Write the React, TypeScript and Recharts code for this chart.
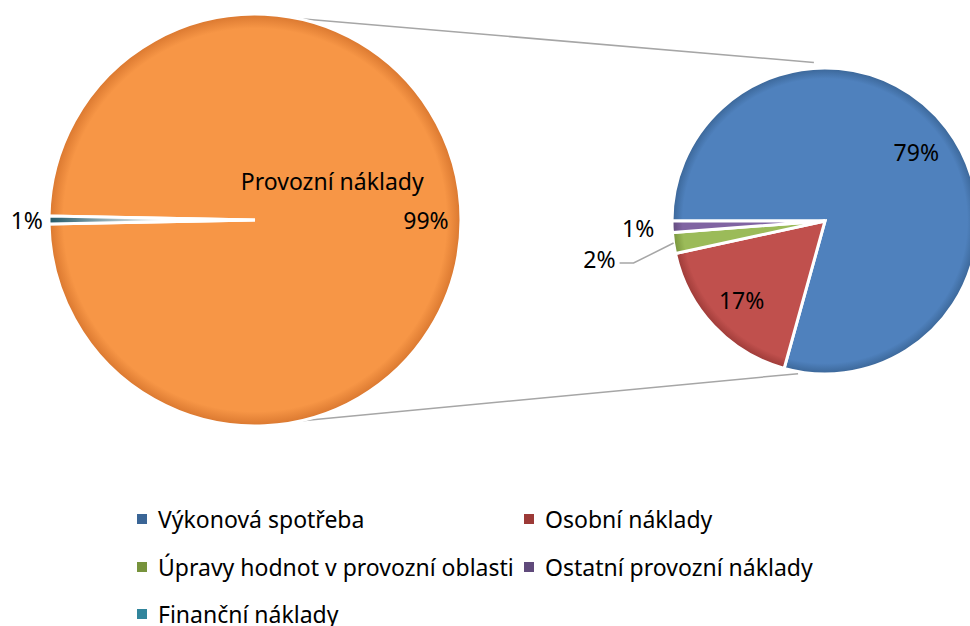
import React from 'react'
import { PieChart, Pie, Cell, Legend } from 'recharts'

// first pie: total costs
const mainNames = ['Provozní náklady', 'Finanční náklady']
const mainValues = [99.4, 0.6]

// second pie: breakdown of operating costs
const detailNames = ['Výkonová spotřeba', 'Osobní náklady', 'Úpravy hodnot v provozní oblasti', 'Ostatní provozní náklady']
const detailValues = [79.3, 17.3, 2.2, 1.2]
const detailFills = ['url(#gBlue)', 'url(#gRed)', 'url(#gGreen)', 'url(#gPurple)']

const legendNames = ['Výkonová spotřeba', 'Osobní náklady', 'Úpravy hodnot v provozní oblasti', 'Ostatní provozní náklady', 'Finanční náklady']
const legendColors = ['#3A6596', '#9C3A37', '#77933C', '#604A7B', '#31859C']

const W = 970
const H = 626
const FONT = '"Noto Sans", sans-serif'
const FS = 23

const L = { cx: 255, cy: 220, r: 206 }
const R = { cx: 825, cy: 221, r: 153 }

const RAD = Math.PI / 180
const polar = (cx: number, cy: number, r: number, deg: number) => ({ x: cx + r * Math.cos(deg * RAD), y: cy - r * Math.sin(deg * RAD) })

const mainData = mainNames.map((name, i) => ({ name, value: mainValues[i] }))
const detailData = detailNames.map((name, i) => ({ name, value: detailValues[i] }))

const mainTotal = mainValues.reduce((a, b) => a + b, 0)
const mainStart = 180 - (mainValues[1] / mainTotal) * 180

const MainLabel = ({ cx, cy, outerRadius, percent, index }: any) => {
  const pct = `${Math.round(percent * 100)}%`
  if (index === 0) {
    return (
      <g fontFamily={FONT} fontSize={FS} fill="#000">
        <text x={cx + outerRadius * 0.375} y={cy - outerRadius * 0.19} textAnchor="middle" dominantBaseline="central">Provozní náklady</text>
        <text x={cx + outerRadius * 0.83} y={cy} textAnchor="middle" dominantBaseline="central">{pct}</text>
      </g>
    )
  }
  return (
    <text x={cx - outerRadius - 6} y={cy} textAnchor="end" dominantBaseline="central" fontFamily={FONT} fontSize={FS} fill="#000">{pct}</text>
  )
}

const DetailLabel = ({ cx, cy, outerRadius, percent, midAngle, index }: any) => {
  const pct = `${Math.round(percent * 100)}%`
  const style = { fontFamily: FONT, fontSize: FS, fill: '#000' }
  if (index < 2) {
    const p = polar(cx, cy, outerRadius * 0.75, midAngle)
    return <text x={p.x} y={p.y} textAnchor="middle" dominantBaseline="central" {...style}>{pct}</text>
  }
  if (index === 2) {
    const a = polar(cx, cy, outerRadius, midAngle)
    const b = { x: a.x - 40, y: a.y + 20 }
    return (
      <g>
        <polyline points={`${a.x},${a.y} ${b.x},${b.y} ${b.x - 14},${b.y}`} fill="none" stroke="#A6A6A6" strokeWidth={1.5} />
        <text x={b.x - 18} y={b.y - 4} textAnchor="end" dominantBaseline="central" {...style}>{pct}</text>
      </g>
    )
  }
  const p = polar(cx, cy, outerRadius + 34, midAngle)
  return <text x={p.x} y={p.y} textAnchor="middle" dominantBaseline="central" {...style}>{pct}</text>
}

const LegendBox = () => (
  <div style={{ position: 'relative', width: W, height: 128, fontFamily: FONT, fontSize: FS, color: '#000' }}>
    {legendNames.map((name, i) => (
      <div key={name} style={{ position: 'absolute', left: i % 2 === 0 ? 137 : 524, top: Math.floor(i / 2) * 47.5, display: 'flex', alignItems: 'center', whiteSpace: 'nowrap', lineHeight: '46px' }}>
        <span style={{ display: 'inline-block', width: 10, height: 10, background: legendColors[i], marginRight: 11 }} />
        {name}
      </div>
    ))}
  </div>
)

const shade = (id: string, c: { cx: number; cy: number; r: number }, base: string, edge: string) => (
  <radialGradient id={id} gradientUnits="userSpaceOnUse" cx={c.cx} cy={c.cy} r={c.r}>
    <stop offset="0" stopColor={base} />
    <stop offset="0.93" stopColor={base} />
    <stop offset="1" stopColor={edge} />
  </radialGradient>
)

export default function App() {
  const lt = polar(L.cx, L.cy, L.r, 78)
  const lb = polar(L.cx, L.cy, L.r, -77.5)
  const rt = polar(R.cx, R.cy, R.r + 6, 94)
  const rb = polar(R.cx, R.cy, R.r + 2, -100)
  return (
    <div style={{ position: 'absolute', left: 0, top: 0, width: W, height: H, background: '#fff', overflow: 'hidden' }}>
      <PieChart width={W} height={H} margin={{ top: 0, right: 0, bottom: 0, left: 0 }}>
        <defs>
          {shade('gOrange', L, '#F79646', '#D9772F')}
          <radialGradient id="gTeal" gradientUnits="userSpaceOnUse" cx={L.cx} cy={L.cy} r={L.r}>
            <stop offset="0" stopColor="#FFFFFF" />
            <stop offset="0.45" stopColor="#FFFFFF" />
            <stop offset="1" stopColor="#215968" />
          </radialGradient>
          {shade('gBlue', R, '#4F81BD', '#3A6596')}
          {shade('gRed', R, '#C0504D', '#9C3A37')}
          {shade('gGreen', R, '#9BBB59', '#77933C')}
          {shade('gPurple', R, '#8064A2', '#604A7B')}
        </defs>
        <line x1={lt.x} y1={lt.y} x2={rt.x} y2={rt.y} stroke="#A6A6A6" strokeWidth={1.5} />
        <line x1={lb.x} y1={lb.y} x2={rb.x} y2={rb.y} stroke="#A6A6A6" strokeWidth={1.5} />
        <Pie
          data={mainData}
          dataKey="value"
          nameKey="name"
          cx={L.cx}
          cy={L.cy}
          outerRadius={L.r}
          startAngle={mainStart}
          endAngle={mainStart - 360}
          stroke="#fff"
          strokeWidth={3}
          label={<MainLabel />}
          labelLine={false}
          isAnimationActive={false}
        >
          <Cell fill="url(#gOrange)" />
          <Cell fill="url(#gTeal)" />
        </Pie>
        <Pie
          data={detailData}
          dataKey="value"
          nameKey="name"
          cx={R.cx}
          cy={R.cy}
          outerRadius={R.r}
          startAngle={180}
          endAngle={-180}
          stroke="#fff"
          strokeWidth={3}
          label={<DetailLabel />}
          labelLine={false}
          isAnimationActive={false}
        >
          {detailFills.map((f, i) => (
            <Cell key={i} fill={f} />
          ))}
        </Pie>
        <Legend content={<LegendBox />} wrapperStyle={{ position: 'absolute', left: 0, top: 496, width: W }} />
      </PieChart>
    </div>
  )
}
